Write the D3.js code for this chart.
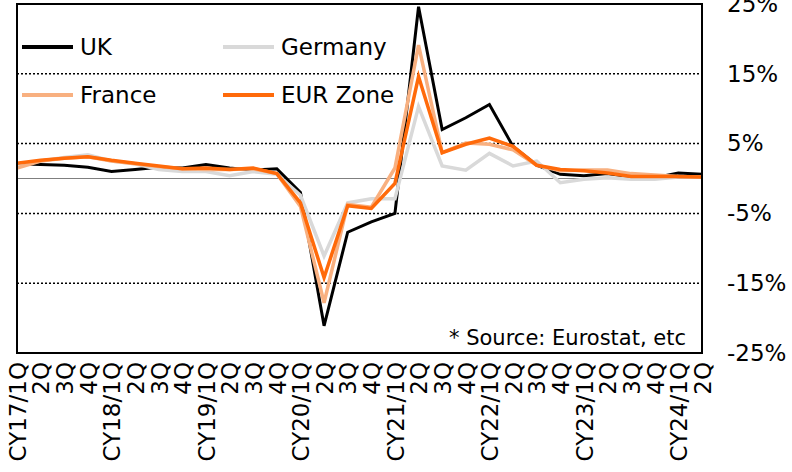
<!DOCTYPE html>
<html>
<head>
<meta charset="utf-8">
<script src="https://cdn.jsdelivr.net/npm/d3@7"></script>
<style>
  body { margin: 0; background: #fff; }
  svg { display: block; font-family: "DejaVu Sans", Verdana, sans-serif; }
</style>
</head>
<body>
<div id="chart"></div>
<script>
// quarters CY17/1Q .. CY24/2Q
var quarters = [
  'CY17/1Q', '2Q', '3Q', '4Q',
  'CY18/1Q', '2Q', '3Q', '4Q',
  'CY19/1Q', '2Q', '3Q', '4Q',
  'CY20/1Q', '2Q', '3Q', '4Q',
  'CY21/1Q', '2Q', '3Q', '4Q',
  'CY22/1Q', '2Q', '3Q', '4Q',
  'CY23/1Q', '2Q', '3Q', '4Q',
  'CY24/1Q', '2Q'
];

var uk      = [2.1, 2.0, 1.9, 1.6, 1.0, 1.3, 1.6, 1.5, 2.0, 1.5, 1.2, 1.4, -2.0, -21.1, -7.7, -6.2, -5.0, 24.6, 7.0, 8.7, 10.6, 4.6, 1.9, 0.6, 0.4, 0.7, 0.2, 0.1, 0.8, 0.6];
var germany = [2.0, 2.5, 3.0, 3.4, 2.5, 2.1, 1.3, 1.0, 1.0, 0.4, 1.0, 0.6, -2.4, -11.1, -3.5, -2.9, -2.9, 10.3, 1.8, 1.2, 3.6, 1.8, 2.5, -0.6, -0.1, 0.1, -0.1, -0.1, 0.2, 0.2];
var france  = [1.5, 2.5, 2.9, 3.1, 2.5, 2.1, 1.7, 1.4, 1.3, 1.3, 1.4, 0.7, -4.0, -17.8, -3.7, -4.1, 1.5, 19.1, 3.7, 5.1, 4.9, 4.1, 1.9, 1.1, 1.2, 1.2, 0.7, 0.5, 0.3, 0.2];
var eurZone = [2.2, 2.6, 2.9, 3.1, 2.6, 2.2, 1.8, 1.4, 1.5, 1.3, 1.5, 0.7, -3.5, -14.2, -3.9, -4.3, -0.7, 14.6, 3.7, 4.9, 5.8, 4.6, 1.9, 1.3, 1.1, 0.8, 0.3, 0.3, 0.3, 0.2];

var yTicks = [25, 15, 5, -5, -15, -25];
var gridValues = [15, 5, -5, -15];
var sourceNote = '* Source: Eurostat, etc';

var series = [
  {name: 'UK', values: uk, color: '#000000', width: 3},
  {name: 'Germany', values: germany, color: '#d9d9d9', width: 3.5},
  {name: 'France', values: france, color: '#f8b080', width: 3.5},
  {name: 'EUR Zone', values: eurZone, color: '#ff6a0a', width: 3.5}
];

function drawChart() {
  var W = 792, H = 472;
  var plotLeft = 17, plotRight = 702, plotTop = 4, plotBottom = 353;
  var fontSize = '23px';

  var svg = d3.select('#chart').append('svg')
    .attr('width', W)
    .attr('height', H);

  var x = d3.scalePoint()
    .domain(d3.range(quarters.length))
    .range([plotLeft, plotRight]);

  var y = d3.scaleLinear()
    .domain([-25, 25])
    .range([plotBottom, plotTop]);

  // dotted gridlines
  svg.append('g')
    .selectAll('line')
    .data(gridValues)
    .join('line')
    .attr('x1', plotLeft)
    .attr('x2', plotRight)
    .attr('y1', d => y(d))
    .attr('y2', d => y(d))
    .attr('stroke', '#000')
    .attr('stroke-width', 1.5)
    .attr('stroke-dasharray', '2,2');

  // zero line
  svg.append('line')
    .attr('x1', plotLeft)
    .attr('x2', plotRight)
    .attr('y1', y(0))
    .attr('y2', y(0))
    .attr('stroke', '#7f7f7f')
    .attr('stroke-width', 1.2);

  var line = d3.line()
    .x((d, i) => x(i))
    .y(d => y(d));

  svg.append('g')
    .selectAll('path')
    .data(series)
    .join('path')
    .attr('d', d => line(d.values))
    .attr('fill', 'none')
    .attr('stroke', d => d.color)
    .attr('stroke-width', d => d.width)
    .attr('stroke-linejoin', 'miter');

  // frame
  svg.append('rect')
    .attr('x', plotLeft)
    .attr('y', plotTop)
    .attr('width', plotRight - plotLeft)
    .attr('height', plotBottom - plotTop)
    .attr('fill', 'none')
    .attr('stroke', '#000')
    .attr('stroke-width', 2);

  // y axis on the right
  var yAxis = d3.axisRight(y)
    .tickValues(yTicks)
    .tickSize(0)
    .tickPadding(0)
    .tickFormat(d => d + '%');

  var yg = svg.append('g')
    .attr('transform', 'translate(727,0)')
    .call(yAxis);
  yg.select('.domain').remove();
  yg.selectAll('text')
    .attr('font-size', fontSize)
    .attr('font-family', '"DejaVu Sans", Verdana, sans-serif')
    .attr('fill', '#000');

  // x axis, rotated labels
  var xAxis = d3.axisBottom(x)
    .tickSize(0)
    .tickFormat(i => quarters[i]);

  var xg = svg.append('g')
    .attr('transform', 'translate(0,' + plotBottom + ')')
    .call(xAxis);
  xg.select('.domain').remove();
  xg.selectAll('text')
    .attr('font-size', fontSize)
    .attr('font-family', '"DejaVu Sans", Verdana, sans-serif')
    .attr('fill', '#000')
    .attr('text-anchor', 'end')
    .attr('transform', 'rotate(-90)')
    .attr('x', -9)
    .attr('y', 0)
    .attr('dy', '0.36em');

  // legend
  var legendPos = [
    {lx: 22, ly: 47}, {lx: 223, ly: 47},
    {lx: 22, ly: 95}, {lx: 223, ly: 95}
  ];
  var lg = svg.append('g')
    .selectAll('g')
    .data(series)
    .join('g')
    .attr('transform', (d, i) => 'translate(' + legendPos[i].lx + ',' + legendPos[i].ly + ')');
  lg.append('line')
    .attr('x1', 0)
    .attr('x2', 51)
    .attr('y1', 0)
    .attr('y2', 0)
    .attr('stroke', d => d.color)
    .attr('stroke-width', 4);
  lg.append('text')
    .attr('x', 58)
    .attr('y', 0)
    .attr('dy', '0.36em')
    .attr('font-size', fontSize)
    .attr('fill', '#000')
    .text(d => d.name);

  // source note
  svg.append('text')
    .attr('x', 686)
    .attr('y', 345)
    .attr('text-anchor', 'end')
    .attr('font-size', '21px')
    .attr('fill', '#000')
    .text(sourceNote);
}

drawChart();
</script>
</body>
</html>
